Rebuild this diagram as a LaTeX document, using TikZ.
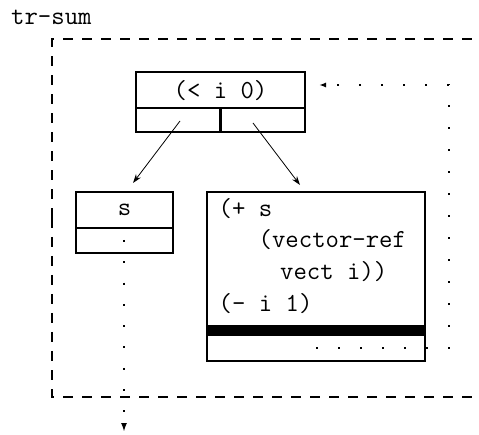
\documentclass[tikz,border=0pt]{standalone}
\usetikzlibrary{arrows.meta}
\begin{document}
\begin{tikzpicture}[x=1pt,y=-1pt,
  box/.style={draw,line width=2pt,rectangle,inner sep=0pt},
  txt/.style={font=\fontsize{26}{32}\selectfont\ttfamily,inner sep=0pt},
  arr/.style={line width=0.8pt,-{Stealth[length=9pt,width=6pt]}},
  dashbox/.style={line width=2pt,dash pattern=on 10pt off 9pt},
  dotline/.style={line width=2pt,dash pattern=on 2pt off 20pt}]
\clip (0,0) rectangle (479,435);
\fill[white] (0,0) rectangle (479,435);
% title
\node[txt,anchor=base west] (title) at (11,25) {tr-sum};
% dashed frame
\draw[dashbox] (52,218) -- (52,39) -- (495,39);
\draw[dashbox] (52,218) -- (52,397) -- (495,397);
% condition box
\node[box,minimum width=169pt,minimum height=60pt] (cond) at (220.5,102) {};
\node[txt] (condtxt) at (220.5,90.5) {(< i 0)};
\draw[line width=2pt] ([yshift=-37pt]cond.north west) -- ([yshift=-37pt]cond.north east);
\draw[line width=3pt] ([yshift=-37pt]cond.north) -- (cond.south);
% s box
\node[box,minimum width=97pt,minimum height=61pt] (sbox) at (124.5,222.5) {};
\node[txt] (stxt) at (124.5,210) {s};
\draw[line width=2pt] ([yshift=-37pt]sbox.north west) -- ([yshift=-37pt]sbox.north east);
% body box
\node[box,minimum width=218pt,minimum height=169pt] (body) at (316,276.5) {};
\node[txt,anchor=base west] (l1) at (218.5,217) {(+ s};
\node[txt,anchor=base west] (l2) at (258.5,248) {(vector-ref};
\node[txt,anchor=base west] (l3) at (280,280) {vect i))};
\node[txt,anchor=base west] (l4) at (218.5,312) {(- i 1)};
\fill ([yshift=-134pt]body.north west) rectangle ([yshift=-145pt]body.north east);
% arrows from the condition box
\coordinate (a1) at (180,121);
\coordinate (a2) at (133,183);
\coordinate (b1) at (253,123);
\coordinate (b2) at (300,185);
\draw[arr] (a1) -- (a2);
\draw[arr] (b1) -- (b2);
% dotted loop back to the condition
\coordinate (loopstart) at (316,348);
\coordinate (loopend) at ([xshift=13pt]cond.east |- 0,85);
\draw[dotline,-{Latex[length=7pt,width=5pt]}] (loopstart) -- (449,348) -- (449,85) -- (loopend);
% dotted exit
\coordinate (exitstart) at (124,240);
\coordinate (exitend) at (124,432);
\draw[line width=2pt,dash pattern=on 2pt off 19.3pt,-{Latex[length=9pt,width=6pt]}] (exitstart) -- (exitend);
\end{tikzpicture}
\end{document}
